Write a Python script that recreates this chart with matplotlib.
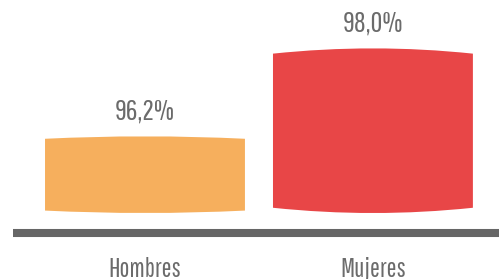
import numpy as np
import matplotlib.pyplot as plt
from matplotlib.path import Path
from matplotlib.patches import PathPatch

categories = ["Hombres", "Mujeres"]
values = [96.2, 98.0]
value_labels = ["96,2%", "98,0%"]
colors = ["#F6AF5D", "#E84647"]

base = 94.63
bar_width = 0.877

plt.rcParams['font.family'] = ['Pathway Gothic One', 'Barlow Condensed', 'DejaVu Sans']

fig = plt.figure(figsize=(4.99, 2.79), dpi=100)
ax = fig.add_axes([0, 0, 1, 1])
ax.set_xlim(-0.636, 1.553)
ax.set_ylim(93.28, 98.99)
ax.axis('off')


def barrel(x, w, bottom, top, bow):
    # straight sides, top and bottom bulge outward a little
    left, right = x - w / 2, x + w / 2
    verts = [(left, bottom), (x, bottom - 2 * bow), (right, bottom),
             (right, top), (x, top + 2 * bow), (left, top), (left, bottom)]
    codes = [Path.MOVETO, Path.CURVE3, Path.CURVE3,
             Path.LINETO, Path.CURVE3, Path.CURVE3, Path.CLOSEPOLY]
    return Path(verts, codes)


xs = np.arange(len(categories))
for x, v, c, lab in zip(xs, values, colors, value_labels):
    h = v - base
    bow = 0.032 * h
    ax.add_patch(PathPatch(barrel(x, bar_width, base + bow, v - bow, bow),
                           facecolor=c, edgecolor='none'))
    ax.annotate(lab, (x, v), xytext=(0, 18), textcoords='offset points',
                ha='center', va='center', fontsize=21, color='#6b6b6b')
    ax.text(x, 0.008, categories[x], transform=ax.get_xaxis_transform(),
            ha='center', va='baseline', fontsize=19, color='#6b6b6b')

ax.axhline(94.22, xmin=0.026, xmax=1, color='#666666', linewidth=5.8,
           solid_capstyle='butt')

fig.savefig('out.png', dpi=100)
